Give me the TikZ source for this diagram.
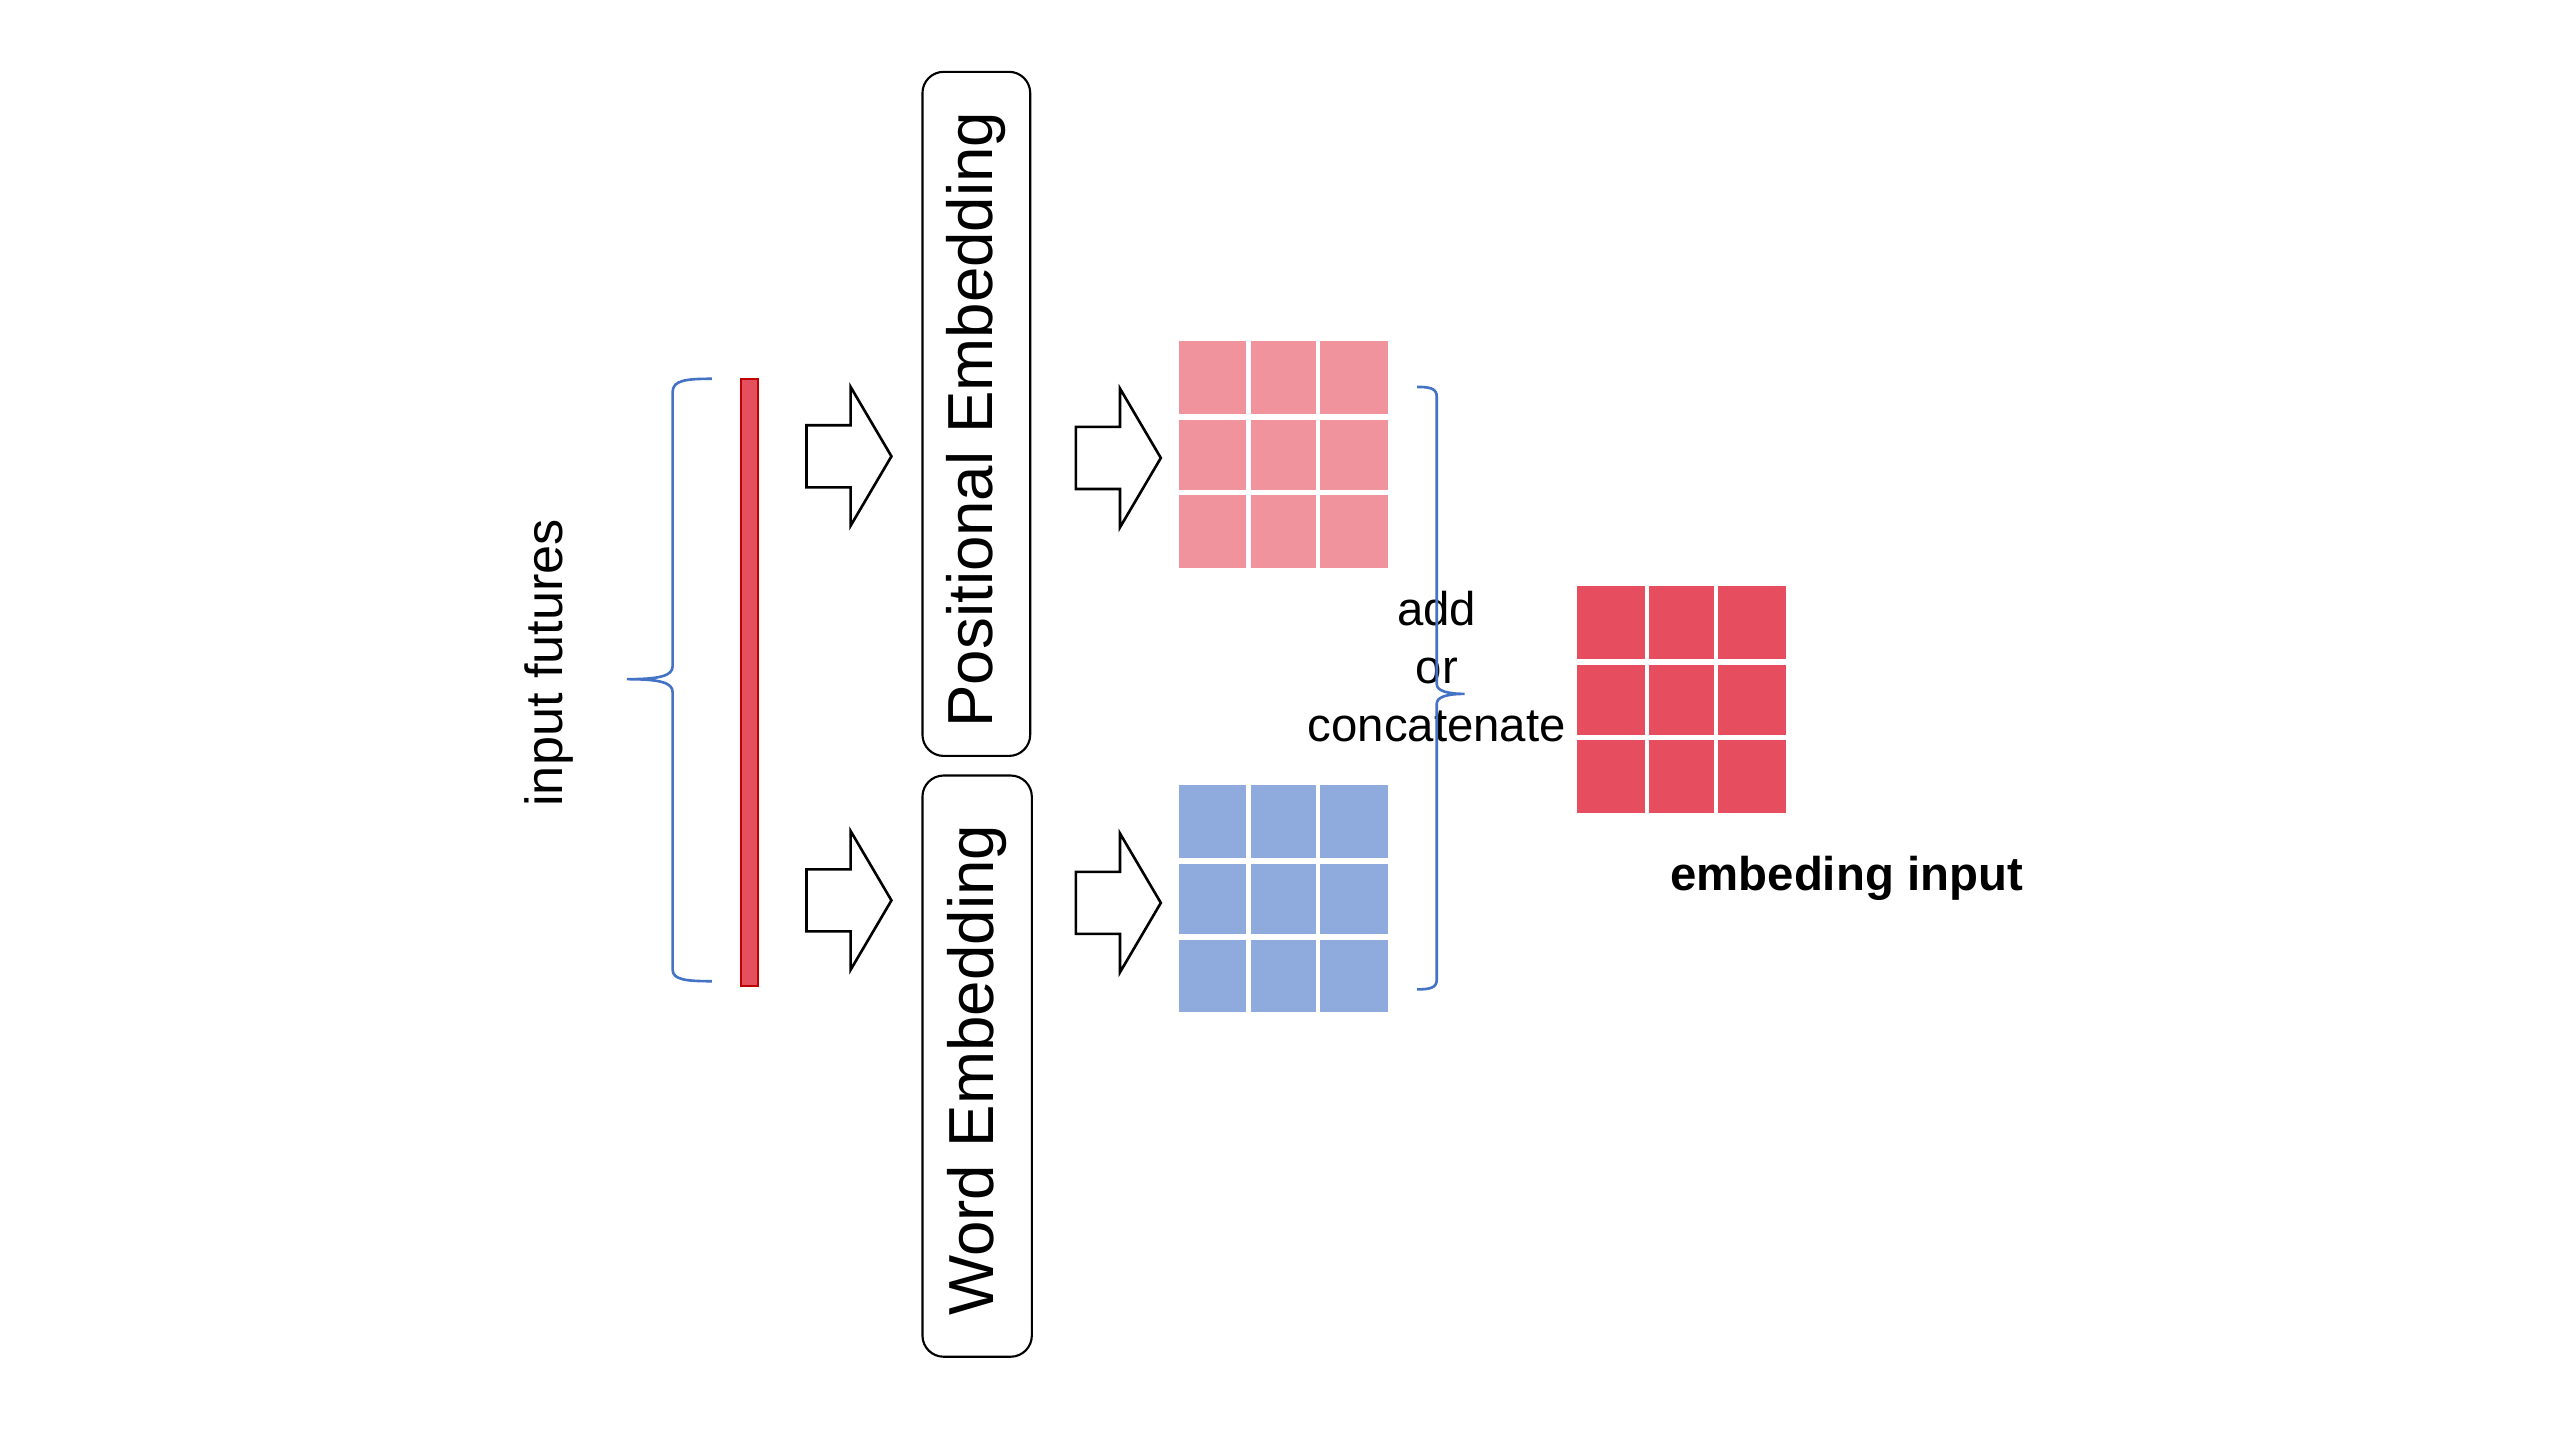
\documentclass[tikz,border=0pt]{standalone}
\usepackage{fontspec}
\setmainfont{Liberation Sans}
\definecolor{pinkc}{RGB}{240,147,157}
\definecolor{bluec}{RGB}{143,170,220}
\definecolor{redc}{RGB}{230,77,94}
\definecolor{barfill}{RGB}{229,80,95}
\definecolor{barline}{RGB}{192,0,0}
\definecolor{bracec}{RGB}{68,114,196}
\tikzset{
  embbox/.style={draw=black, line width=1.3pt, rounded corners=13pt, rotate=90, inner sep=0pt,
    font=\fontsize{39}{44}\selectfont},
  brc/.style={draw=bracec, line width=1.6pt},
  pics/cellgrid/.style={code={
    \fill[#1] (0,0) rectangle (128,139);
    \draw[white, line width=2.5pt] (42.7,0) -- (42.7,139) (85.3,0) -- (85.3,139);
    \draw[white, line width=3.5pt] (0,46.3) -- (128,46.3) (0,92.7) -- (128,92.7);
  }},
  pics/blockarrow/.style={code={
    \draw[line width=1.6pt, fill=white, line join=miter]
      (0,-19) -- (27,-19) -- (27,-42.5) -- (52,0) -- (27,42.5) -- (27,19) -- (0,19) -- cycle;
  }}
}
\begin{document}
\begin{tikzpicture}[x=1pt,y=-1pt]
\useasboundingbox[fill=white] (0,0) rectangle (1568,882);

% input label
\node[rotate=90, font=\fontsize{32}{38}\selectfont] (inlabel) at (336,406) {input futures};

% left brace
\draw[brc] (436,232) .. controls (420,232) and (412,233) .. (412,240) -- (412,408)
  .. controls (412,414) and (404,416) .. (384,416)
  .. controls (404,416) and (412,418) .. (412,424) -- (412,594)
  .. controls (412,600) and (420,601) .. (436,601);

% input bar
\node[draw=barline, fill=barfill, line width=1.3pt, minimum width=10pt, minimum height=372pt, inner sep=0pt] (bar) at (459,418) {};

% arrows into embeddings
\pic at (494,279.5) {blockarrow};
\pic at (494,551.5) {blockarrow};

% embedding boxes
\node[embbox, minimum width=419pt, minimum height=66pt] (pos) at (598,253.5) {};
\node[rotate=90, font=\fontsize{39}{44}\selectfont] (postext) at (598,257) {Positional Embedding};
\node[embbox, minimum width=356pt, minimum height=67pt] (word) at (598.5,653) {};
\node[rotate=90, font=\fontsize{39}{44}\selectfont] (wordtext) at (598.5,655.5) {Word Embedding};

% arrows out of embeddings
\pic at (659,280.5) {blockarrow};
\pic at (659,553) {blockarrow};

% grids
\pic at (722,209) {cellgrid=pinkc};
\pic at (722,481) {cellgrid=bluec};
\pic at (966,359) {cellgrid=redc};

% combine label
\node[align=center, font=\fontsize{29}{35.5}\selectfont] (comb) at (880,408) {add\\or\\concatenate};

% right brace
\draw[brc] (868,237) .. controls (876,237) and (880,238) .. (880,243) -- (880,419)
  .. controls (880,423) and (886,425) .. (897,425)
  .. controls (886,425) and (880,427) .. (880,431) -- (880,600)
  .. controls (880,605) and (876,606) .. (868,606);

% output label
\node[font=\bfseries\fontsize{29}{35}\selectfont] (outlabel) at (1131,538) {embeding input};
\end{tikzpicture}
\end{document}
